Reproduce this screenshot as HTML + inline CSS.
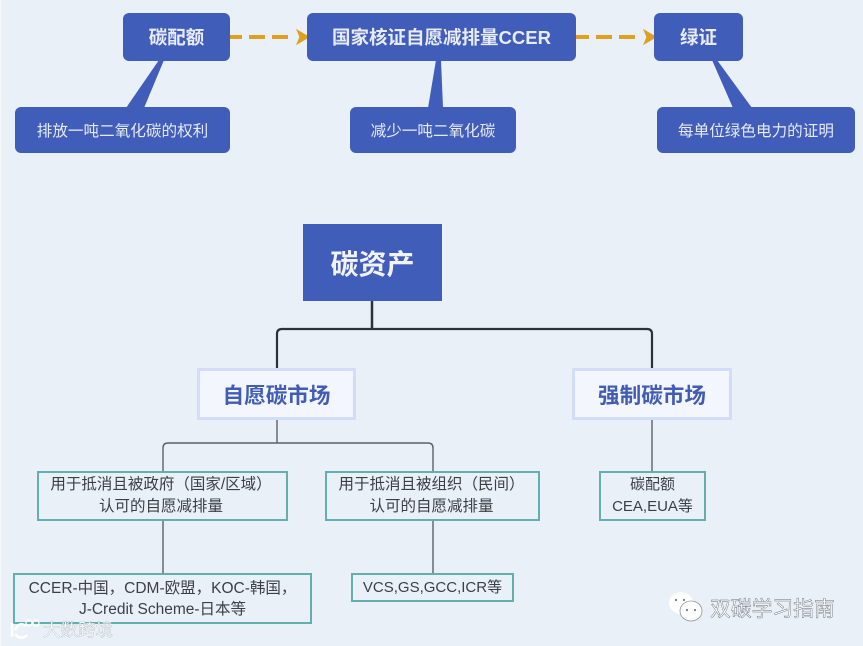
<!DOCTYPE html>
<html><head><meta charset="utf-8"><style>
html,body{margin:0;padding:0;background:#e9f0f7}
body{width:863px;height:646px;overflow:hidden;position:relative;font-family:"Liberation Sans","Noto Sans CJK SC",sans-serif}
.b{position:absolute;box-sizing:border-box;display:flex;align-items:center;justify-content:center;text-align:center;white-space:nowrap}
.p{background:#405dba;color:#e6eaf4;border-radius:6px;font-size:15.6px}
.h{font-weight:700;font-size:18.5px;color:#e8ecf6}
.m{background:#f3f6fd;border:3px solid #d3dcf8;color:#405cb4;font-weight:700;font-size:21.6px}
.t{border:2px solid #62b0ae;color:#3c3f44;font-size:15.5px;line-height:22px;background:#e9f0f7}
svg{position:absolute;left:0;top:0}
</style></head><body>
<svg width="863" height="646">
<rect x="0" y="0" width="1" height="646" fill="#f6f8fb"/>
<polygon points="159,60 164,60 144,108 126,108" fill="#405dba"/>
<polygon points="436,60 441,60 443,108 428,108" fill="#405dba"/>
<polygon points="712,60 717,60 752,108 733,108" fill="#405dba"/>
<path d="M230 37H294" stroke="#e0a01f" stroke-width="4" stroke-dasharray="16 7" stroke-dashoffset="4" fill="none"/>
<polygon points="297,30 309,37 297,44 300,37" fill="#e0a01f" stroke="#e0a01f" stroke-width="1"/>
<path d="M576 37H641" stroke="#e0a01f" stroke-width="4" stroke-dasharray="16 7" stroke-dashoffset="3" fill="none"/>
<polygon points="644,30 656,37 644,44 647,37" fill="#e0a01f" stroke="#e0a01f" stroke-width="1"/>
<path d="M372 300V329" stroke="#2d3238" stroke-width="2.5" fill="none"/>
<path d="M277 369V334Q277 329 282 329H647Q652 329 652 334V369" stroke="#2d3238" stroke-width="2.2" fill="none"/>
<path d="M277 419V443M163 472V448Q163 443 168 443H428Q433 443 433 448V472M652 419V472M163 520V574M433 520V574" stroke="#5c6166" stroke-width="1.4" fill="none"/>
</svg>
<div class="b p h" style="left:123px;top:13px;width:107px;height:48px">碳配额</div>
<div class="b p h" style="left:307px;top:13px;width:269px;height:48px">国家核证自愿减排量CCER</div>
<div class="b p h" style="left:654px;top:13px;width:89px;height:48px">绿证</div>
<div class="b p" style="left:15px;top:107px;width:215px;height:46px">排放一吨二氧化碳的权利</div>
<div class="b p" style="left:350px;top:107px;width:166px;height:46px">减少一吨二氧化碳</div>
<div class="b p" style="left:657px;top:107px;width:198px;height:46px">每单位绿色电力的证明</div>
<div class="b" style="left:303px;top:224px;width:139px;height:77px;background:#405dba;color:#f1f3f8;font-weight:700;font-size:28px">碳资产</div>
<div class="b m" style="left:197px;top:368px;width:159px;height:52px">自愿碳市场</div>
<div class="b m" style="left:572px;top:368px;width:160px;height:52px">强制碳市场</div>
<div class="b t" style="left:37px;top:471px;width:251px;height:50px"><span style="margin-left:-3px">用于抵消且被政府（国家/区域）<br>认可的自愿减排量</span></div>
<div class="b t" style="left:325px;top:471px;width:215px;height:50px"><span style="margin-left:-2px">用于抵消且被组织（民间）<br>认可的自愿减排量</span></div>
<div class="b t" style="left:599px;top:471px;width:107px;height:50px;font-size:15px">碳配额<br>CEA,EUA等</div>
<div class="b t" style="left:13px;top:573px;width:299px;height:51px;line-height:21px">CCER-中国，CDM-欧盟，KOC-韩国，<br>J-Credit Scheme-日本等</div>
<div class="b t" style="left:351px;top:573px;width:163px;height:29px;font-size:15px">VCS,GS,GCC,ICR等</div>
<svg width="863" height="646" style="pointer-events:none">
<ellipse cx="681" cy="603" rx="12" ry="11" fill="#fff"/>
<ellipse cx="691" cy="611" rx="11" ry="10" fill="#fff" stroke="#8d9399" stroke-width="0.8"/>
<circle cx="687" cy="610" r="1.1" fill="#777"/><circle cx="695" cy="610" r="1.1" fill="#777"/>
<circle cx="676" cy="600" r="1.1" fill="#777"/><circle cx="684" cy="600" r="1.1" fill="#777"/>
<text x="710" y="616" font-size="20.8" fill="#fff" stroke="#6b7076" stroke-width="0.45" font-family="'Liberation Sans','Noto Sans CJK SC',sans-serif">双碳学习指南</text>
<path d="M12 623V637M15 630Q19 621 26 626M15 634Q21 641 27 635" stroke="#fff" stroke-width="2.5" fill="none"/>
<circle cx="29" cy="623" r="3" fill="none" stroke="#fff" stroke-width="1.3"/>
<circle cx="36" cy="623" r="3" fill="none" stroke="#fff" stroke-width="1.3"/>
<text x="43" y="636" font-size="17.5" fill="#fff" stroke="#aab2ba" stroke-width="0.35" font-family="'Liberation Sans','Noto Sans CJK SC',sans-serif">大数跨境</text>
</svg>
</body></html>
